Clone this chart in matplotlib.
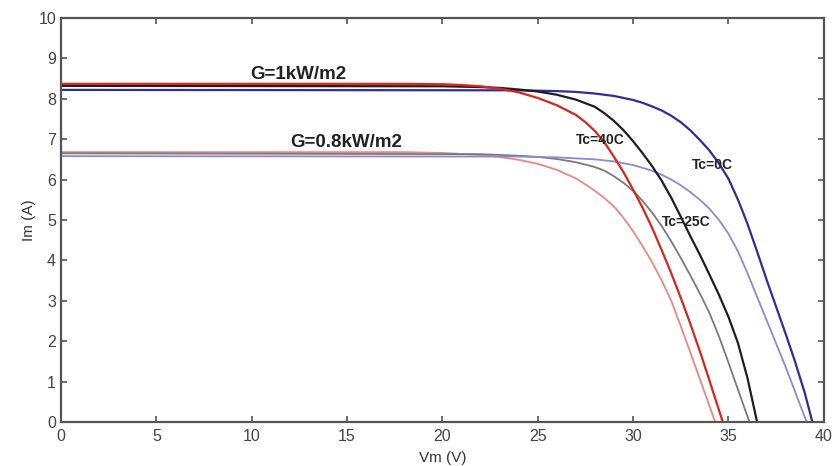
"""
Curvas I-V do modulo PV para duas irradiancias e tres temperaturas
"""

import matplotlib.pyplot as plt

plt.rcParams['font.family'] = ['Liberation Sans', 'DejaVu Sans']

# ============================================================================
# DADOS
# ============================================================================

# G = 1 kW/m2
v_g1_40c = [0, 18, 20, 21, 22, 23, 24, 25, 26, 27, 27.5, 28, 28.5, 29, 29.5,
            30, 30.5, 31, 31.5, 32, 32.5, 33, 33.5, 34, 34.7]
i_g1_40c = [8.37, 8.37, 8.36, 8.34, 8.31, 8.25, 8.16, 8.02, 7.84, 7.6, 7.42, 7.2, 6.92, 6.56, 6.18,
            5.75, 5.3, 4.8, 4.25, 3.68, 3.07, 2.43, 1.75, 1.03, 0]

v_g1_25c = [0, 20, 22, 23, 24, 25, 26, 27, 28, 28.5, 29, 29.5, 30, 30.5, 31,
            31.5, 32, 32.5, 33, 33.5, 34, 34.5, 35, 35.5, 36, 36.5]
i_g1_25c = [8.32, 8.31, 8.29, 8.27, 8.23, 8.18, 8.1, 7.98, 7.8, 7.64, 7.45, 7.22, 6.95, 6.65, 6.33,
            5.97, 5.55, 5.08, 4.6, 4.14, 3.65, 3.15, 2.6, 1.95, 1.08, 0]

v_g1_0c = [0, 24, 26, 27, 28, 29, 30, 30.5, 31, 31.5, 32, 32.5, 33, 33.5, 34,
           34.5, 35, 35.5, 36, 36.5, 37, 37.5, 38, 38.5, 39, 39.4]
i_g1_0c = [8.22, 8.21, 8.19, 8.17, 8.13, 8.07, 7.97, 7.9, 7.81, 7.71, 7.58, 7.42, 7.22, 6.98, 6.72,
           6.4, 6.02, 5.5, 4.9, 4.22, 3.52, 2.85, 2.18, 1.48, 0.72, 0]

# G = 0.8 kW/m2
v_g08_40c = [0, 18, 20, 22, 23, 24, 25, 26, 27, 27.5, 28, 28.5, 29, 29.5, 30,
             30.5, 31, 31.5, 32, 32.5, 33, 33.5, 34, 34.3]
i_g08_40c = [6.68, 6.68, 6.66, 6.61, 6.56, 6.49, 6.39, 6.24, 6.03, 5.88, 5.72, 5.54, 5.33, 5.05, 4.72,
             4.35, 3.95, 3.5, 3.0, 2.37, 1.72, 1.06, 0.4, 0]

v_g08_25c = [0, 22, 24, 25, 26, 27, 28, 28.5, 29, 29.5, 30, 30.5, 31, 31.5, 32,
             32.5, 33, 33.5, 34, 34.5, 35, 35.5, 36.1]
i_g08_25c = [6.65, 6.63, 6.59, 6.56, 6.51, 6.43, 6.31, 6.22, 6.08, 5.92, 5.72, 5.47, 5.18, 4.85, 4.47,
             4.06, 3.63, 3.18, 2.7, 2.12, 1.47, 0.8, 0]

v_g08_0c = [0, 24, 26, 28, 29, 30, 31, 31.5, 32, 32.5, 33, 33.5, 34, 34.5, 35,
            35.5, 36, 36.5, 37, 37.5, 38, 38.5, 39.1]
i_g08_0c = [6.58, 6.57, 6.55, 6.5, 6.45, 6.36, 6.22, 6.12, 6.0, 5.86, 5.69, 5.5, 5.28, 5.0, 4.66,
            4.22, 3.68, 3.1, 2.52, 1.94, 1.36, 0.74, 0]

x_ticks = [0, 5, 10, 15, 20, 25, 30, 35, 40]
y_ticks = [0, 1, 2, 3, 4, 5, 6, 7, 8, 9, 10]

# ============================================================================
# GRAFICO
# ============================================================================

fig = plt.figure(figsize=(8.33, 4.66), dpi=100)
ax = fig.add_axes([0.0732, 0.0944, 0.9158, 0.867])

# curvas G=0.8 (mais claras)
ax.plot(v_g08_40c, i_g08_40c, color='#e98886', lw=1.3)
ax.plot(v_g08_25c, i_g08_25c, color='#7a7a7a', lw=1.3)
ax.plot(v_g08_0c, i_g08_0c, color='#8a8acc', lw=1.3)

# curvas G=1
ax.plot(v_g1_0c, i_g1_0c, color='#2e2e96', lw=1.6)
ax.plot(v_g1_25c, i_g1_25c, color='#1e1e1e', lw=1.6)
ax.plot(v_g1_40c, i_g1_40c, color='#d9261c', lw=1.6)

# anotacoes
ax.text(9.9, 8.6, 'G=1kW/m2', fontsize=13.5, fontweight='bold', color='#222222', va='center')
ax.text(12.0, 6.93, 'G=0.8kW/m2', fontsize=13.5, fontweight='bold', color='#222222', va='center')
ax.text(27.0, 6.98, 'Tc=40C', fontsize=10, fontweight='bold', color='#222222', va='center')
ax.text(33.1, 6.36, 'Tc=0C', fontsize=10, fontweight='bold', color='#222222', va='center')
ax.text(31.5, 4.95, 'Tc=25C', fontsize=10, fontweight='bold', color='#222222', va='center')

ax.set_xlim(0, 40)
ax.set_ylim(0, 10)
ax.set_xticks(x_ticks)
ax.set_yticks(y_ticks)
ax.tick_params(direction='in', top=True, right=True, length=4, width=1.2,
               colors='#555555', labelcolor='#444444', labelsize=11.5)
ax.tick_params(axis='x', pad=5)
for spine in ax.spines.values():
    spine.set_color('#555555')
    spine.set_linewidth(1.6)

ax.set_xlabel('Vm (V)', fontsize=11, color='#333333', labelpad=5)
ax.set_ylabel('Im (A)', fontsize=11, color='#333333', labelpad=2)

plt.savefig('out.png', dpi=100)
